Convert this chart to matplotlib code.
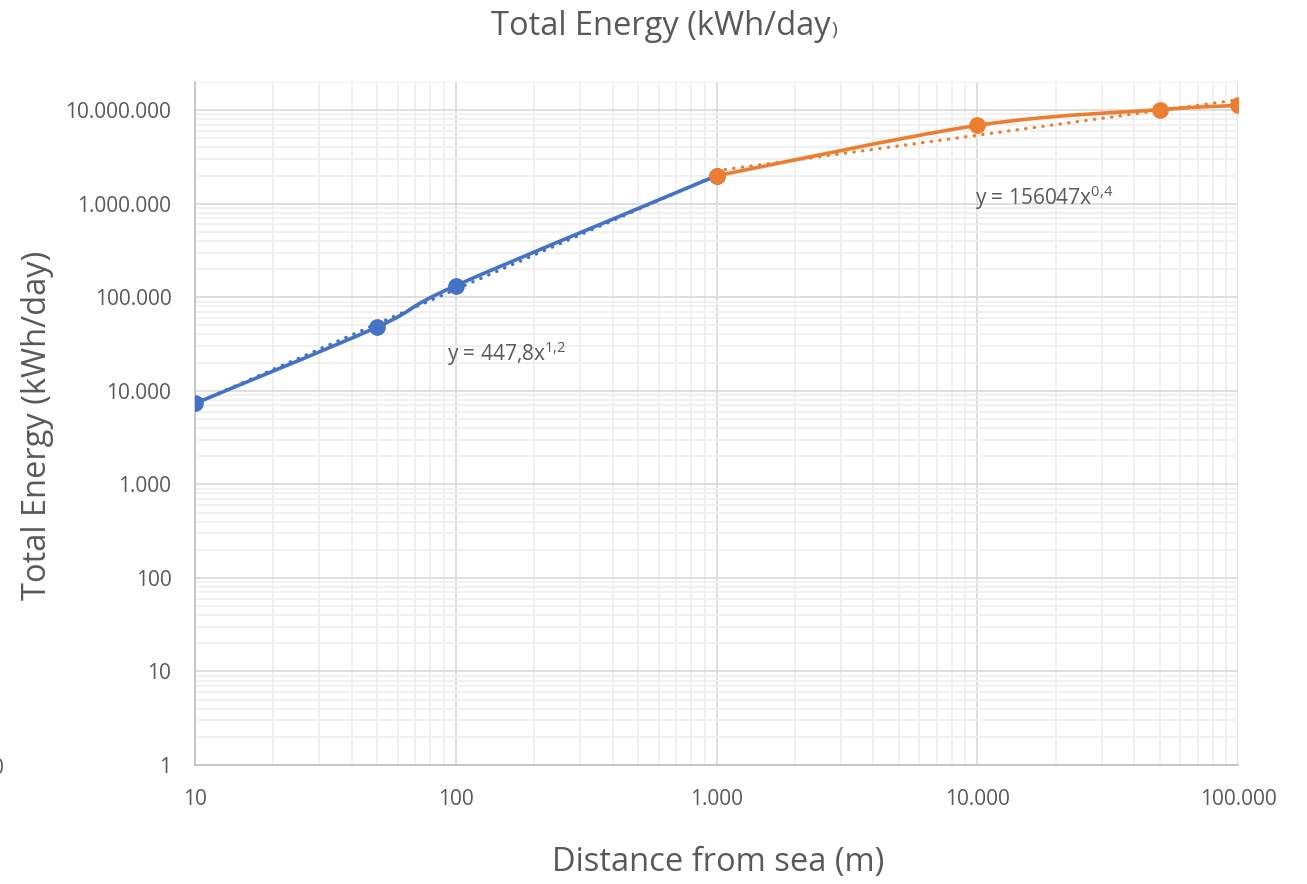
import numpy as np
import matplotlib as mpl
mpl.use('Agg')
import matplotlib.pyplot as plt
from matplotlib.path import Path
from matplotlib.patches import PathPatch
from matplotlib.ticker import FixedLocator, FuncFormatter, LogLocator, NullFormatter

plt.rcParams['font.family'] = ['Open Sans', 'DejaVu Sans']
plt.rcParams['mathtext.fontset'] = 'custom'
plt.rcParams['mathtext.rm'] = 'Open Sans'

# data
near_x = [10, 50, 100, 1000]
near_y = [7330, 48100, 133000, 1990000]
far_x = [1000, 10000, 50000, 100000]
far_y = [1990000, 6870000, 10120000, 11250000]
near_label = r'y = 447,8x$^{\mathregular{1{,}2}}$'
far_label = r'y = 156047x$^{\mathregular{0{,}4}}$'
x_ticks = [10, 100, 1000, 10000, 100000]
y_ticks = [1, 10, 100, 1000, 10000, 100000, 1000000, 10000000]

blue = '#4472C4'
orange = '#ED7D31'
txt = '#595959'


def dotted_thousands(v, pos=None):
    return '{:,.0f}'.format(v).replace(',', '.')


def smooth_path(xs, ys):
    # excel-style smoothed line: bezier segments in log space
    lx = np.log10(xs)
    ly = np.log10(ys)
    n = len(lx)
    verts = [(lx[0], ly[0])]
    codes = [Path.MOVETO]
    for i in range(n - 1):
        p0 = np.array([lx[max(i - 1, 0)], ly[max(i - 1, 0)]])
        p1 = np.array([lx[i], ly[i]])
        p2 = np.array([lx[i + 1], ly[i + 1]])
        p3 = np.array([lx[min(i + 2, n - 1)], ly[min(i + 2, n - 1)]])
        c1 = p1 + (p2 - p0) / 6
        c2 = p2 - (p3 - p1) / 6
        verts += [tuple(c1), tuple(c2), tuple(p2)]
        codes += [Path.CURVE4] * 3
    verts = [(10 ** a, 10 ** b) for a, b in verts]
    return Path(verts, codes)


def power_fit(xs, ys):
    b, a = np.polyfit(np.log10(xs), np.log10(ys), 1)
    return b, a


fig = plt.figure(figsize=(13.07, 8.84), dpi=100)
ax = fig.add_axes([195 / 1307, 1 - 765 / 884, (1238 - 195) / 1307, (765 - 82) / 884])
ax.set_xscale('log')
ax.set_yscale('log')
ax.set_xlim(10, 100000)
ax.set_ylim(1, 2e7)

ax.xaxis.set_major_locator(FixedLocator(x_ticks))
ax.yaxis.set_major_locator(FixedLocator(y_ticks))
ax.xaxis.set_minor_locator(LogLocator(base=10, subs=np.arange(2, 10)))
ax.yaxis.set_minor_locator(LogLocator(base=10, subs=np.arange(2, 10)))
ax.xaxis.set_major_formatter(FuncFormatter(dotted_thousands))
ax.yaxis.set_major_formatter(FuncFormatter(dotted_thousands))
ax.xaxis.set_minor_formatter(NullFormatter())
ax.yaxis.set_minor_formatter(NullFormatter())

ax.grid(True, which='minor', color='#efefef', linewidth=1.2, zorder=0)
ax.grid(True, which='major', color='#d9d9d9', linewidth=1.2, zorder=0)
ax.set_axisbelow(True)
for s in ['top', 'right']:
    ax.spines[s].set_visible(False)
for s in ['left', 'bottom']:
    ax.spines[s].set_color('#bfbfbf')
    ax.spines[s].set_linewidth(1.2)
ax.tick_params(which='both', length=0, labelsize=15, labelcolor=txt)
ax.tick_params(axis='y', pad=17)
ax.tick_params(axis='x', pad=17)

# trendlines
for xs, ys, col in [(near_x, near_y, blue), (far_x, far_y, orange)]:
    b, a = power_fit(xs, ys)
    tx = np.array([xs[0], xs[-1]])
    ax.plot(tx, 10 ** a * tx ** b, color=col, linewidth=2.4,
            linestyle=(0, (0.1, 2.5)), dash_capstyle='round', zorder=2)

for xs, ys, col in [(near_x, near_y, blue), (far_x, far_y, orange)]:
    ax.add_patch(PathPatch(smooth_path(xs, ys), facecolor='none', edgecolor=col,
                           linewidth=2.6, capstyle='round', zorder=3))
    ax.plot(xs, ys, linestyle='none', marker='o', markersize=11,
            color=col, zorder=4)

ax.text(0.2414, 0.6015, near_label, transform=ax.transAxes, fontsize=15,
        color=txt, va='center', ha='left')
ax.text(0.7478, 0.831, far_label, transform=ax.transAxes, fontsize=15,
        color=txt, va='center', ha='left')

fig.text(831 / 1307, 1 - 35 / 884, 'Total Energy (kWh/day', fontsize=23.5,
         color=txt, ha='right', va='baseline')
fig.text(831 / 1307, 1 - 35 / 884, ')', fontsize=14, color=txt,
         ha='left', va='baseline')
fig.text(718 / 1307, 1 - 862 / 884, 'Distance from sea (m)', fontsize=23.5,
         color=txt, ha='center', va='center')
fig.text(38 / 1307, 1 - 425 / 884, 'Total Energy (kWh/day)', fontsize=23.5,
         color=txt, ha='center', va='center', rotation=90)
fig.text(4 / 1307, 1 - 768 / 884, '0', fontsize=15, color=txt,
         ha='right', va='center')

fig.savefig('out.png', dpi=100)
